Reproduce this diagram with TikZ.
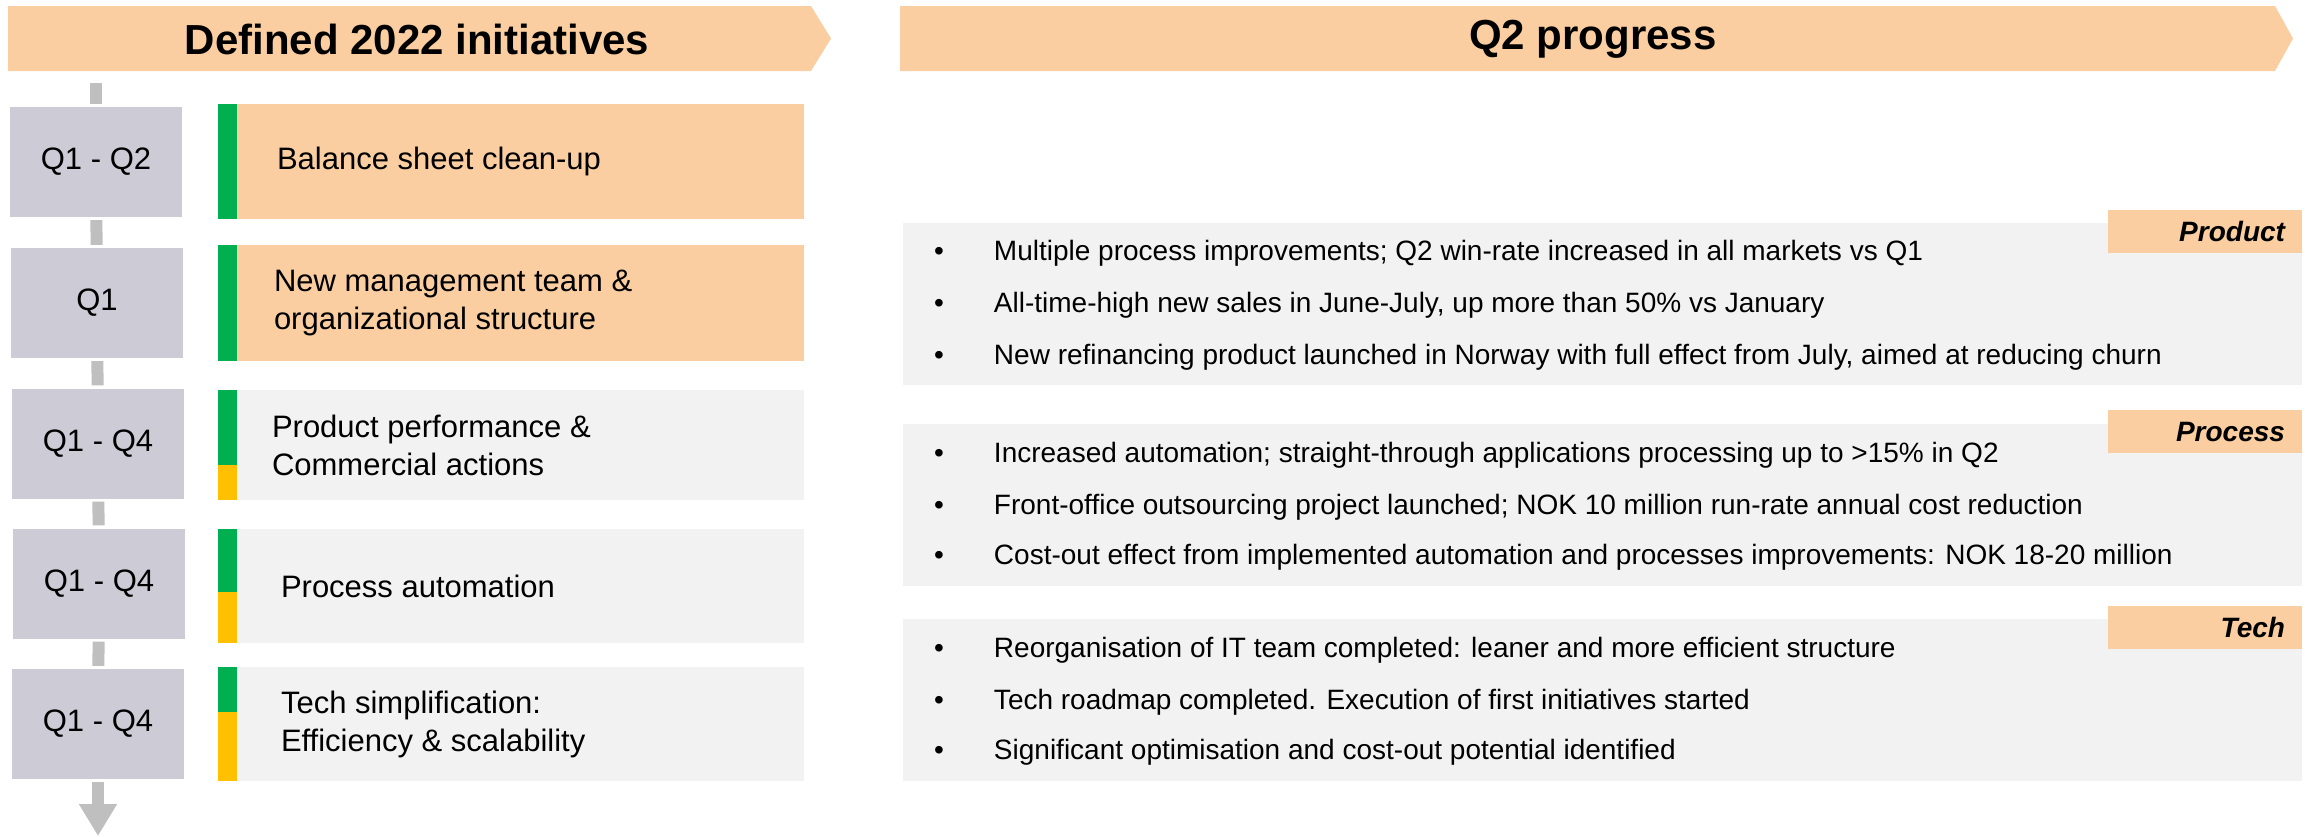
\documentclass[tikz,border=0pt]{standalone}
\usepackage{fontspec}
\setmainfont{Liberation Sans}
\usetikzlibrary{arrows.meta,positioning,calc}

\definecolor{peach}{HTML}{FACEA0}
\definecolor{qgray}{HTML}{CDCBD6}
\definecolor{panelgray}{HTML}{F2F2F2}
\definecolor{okgreen}{HTML}{00B050}
\definecolor{wipyellow}{HTML}{FFC000}
\definecolor{conngray}{HTML}{BFBFBF}

\tikzset{
    qbox/.style={fill=qgray, minimum width=172pt, minimum height=110pt, inner sep=0pt,
        font=\fontsize{31}{38}\selectfont},
    initbox/.style={minimum width=586pt, inner sep=0pt},
    inittext/.style={anchor=west, inner sep=0pt, align=left, font=\fontsize{31}{38}\selectfont},
    conn/.style={conngray, line width=12pt, shorten <=3pt, shorten >=3pt},
    panel/.style={fill=panelgray, minimum width=1399pt, minimum height=162pt, inner sep=0pt},
    tag/.style={fill=peach, anchor=north east, minimum height=43pt, text width=160pt,
        inner xsep=17pt, inner ysep=0pt, align=right, font=\fontsize{28}{34}\selectfont\bfseries\itshape},
    bullet/.style={anchor=west, inner sep=0pt, font=\fontsize{28}{34}\selectfont},
    banner/.style={fill=peach},
    head/.style={font=\fontsize{42}{50}\selectfont\bfseries}
}
\newcommand{\bul}{\makebox[60pt][l]{\textbullet}}

\begin{document}
\begin{tikzpicture}[x=1pt, y=-1pt]
    \useasboundingbox (0,0) rectangle (2305,836);

    % banners
    \fill[banner] (8,6) -- (811,6) -- (831,38.5) -- (811,71) -- (8,71) -- cycle;
    \node[head] (lefthead) at (417,39) {Defined 2022 initiatives};
    \fill[banner] (900,6) -- (2275,6) -- (2293,38.5) -- (2275,71) -- (900,71) -- cycle;
    \node[head] (righthead) at (1593,39) {Q2 progress};

    % time line
    \node[qbox] (q1) at (96,162) {Q1 - Q2};
    \node[qbox] (q2) at (97,303) {Q1};
    \node[qbox] (q3) at (98,443.5) {Q1 - Q4};
    \node[qbox] (q4) at (99,583.5) {Q1 - Q4};
    \node[qbox] (q5) at (98,724) {Q1 - Q4};
    \coordinate (tltop) at (96,80);
    \coordinate (tlend) at (98,836);
    \draw[conn] (tltop) -- (q1);
    \draw[conn] (q1) -- (q2);
    \draw[conn] (q2) -- (q3);
    \draw[conn] (q3) -- (q4);
    \draw[conn] (q4) -- (q5);
    \draw[conn, shorten >=0pt, -{Triangle[width=36pt, length=32pt]}] (q5) -- (tlend);

    % initiatives
    \node[initbox, fill=peach, minimum height=115pt] (init1) at (511,161.5) {};
    \node[initbox, fill=peach, minimum height=116pt] (init2) at (511,303) {};
    \node[initbox, fill=panelgray, minimum height=110pt] (init3) at (511,445) {};
    \node[initbox, fill=panelgray, minimum height=114pt] (init4) at (511,586) {};
    \node[initbox, fill=panelgray, minimum height=114pt] (init5) at (511,724) {};
    \fill[okgreen] (init1.north west) rectangle ++(19,115);
    \fill[okgreen] (init2.north west) rectangle ++(19,116);
    \fill[okgreen] (init3.north west) rectangle ++(19,75);
    \fill[wipyellow] (init3.south west) rectangle ++(19,-35);
    \fill[okgreen] (init4.north west) rectangle ++(19,63);
    \fill[wipyellow] (init4.south west) rectangle ++(19,-51);
    \fill[okgreen] (init5.north west) rectangle ++(19,45);
    \fill[wipyellow] (init5.south west) rectangle ++(19,-69);
    \node[inittext, right=59pt of init1.west] (t1) {Balance sheet clean-up};
    \node[inittext, right=56pt of init2.west] (t2) {New management team \&\\organizational structure};
    \node[inittext, right=54pt of init3.west] (t3) {Product performance \&\\Commercial actions};
    \node[inittext, right=63pt of init4.west] (t4) {Process automation};
    \node[inittext, right=63pt of init5.west] (t5) {Tech simplification:\\Efficiency \& scalability};

    % progress panels
    \node[panel] (prodbox) at (1602.5,304) {};
    \node[panel] (procbox) at (1602.5,505) {};
    \node[panel] (techbox) at (1602.5,700) {};
    \node[tag] (prodtag) at ([yshift=13pt]prodbox.north east) {Product};
    \node[tag] (proctag) at ([yshift=14pt]procbox.north east) {Process};
    \node[tag] (techtag) at ([yshift=13pt]techbox.north east) {Tech};

    \node[bullet] (prod1) at ($(prodbox.north west)+(31,30)$) {\bul Multiple process improvements; Q2 win-rate increased in all markets vs Q1};
    \node[bullet] (prod2) at ($(prodbox.north west)+(31,82)$) {\bul All-time-high new sales in June-July, up more than 50\% vs January};
    \node[bullet] (prod3) at ($(prodbox.north west)+(31,134)$) {\bul New refinancing product launched in Norway with full effect from July, aimed at reducing churn};

    \node[bullet] (proc1) at ($(procbox.north west)+(31,31)$) {\bul Increased automation; straight-through applications processing up to >15\% in Q2};
    \node[bullet] (proc2) at ($(procbox.north west)+(31,83)$) {\bul Front-office outsourcing project launched; NOK 10 million run-rate annual cost reduction};
    \node[bullet] (proc3) at ($(procbox.north west)+(31,133)$) {\bul Cost-out effect from implemented automation and processes improvements: NOK 18-20 million};

    \node[bullet] (tech1) at ($(techbox.north west)+(31,31)$) {\bul Reorganisation of IT team completed: leaner and more efficient structure};
    \node[bullet] (tech2) at ($(techbox.north west)+(31,83)$) {\bul Tech roadmap completed. Execution of first initiatives started};
    \node[bullet] (tech3) at ($(techbox.north west)+(31,133)$) {\bul Significant optimisation and cost-out potential identified};
\end{tikzpicture}
\end{document}
